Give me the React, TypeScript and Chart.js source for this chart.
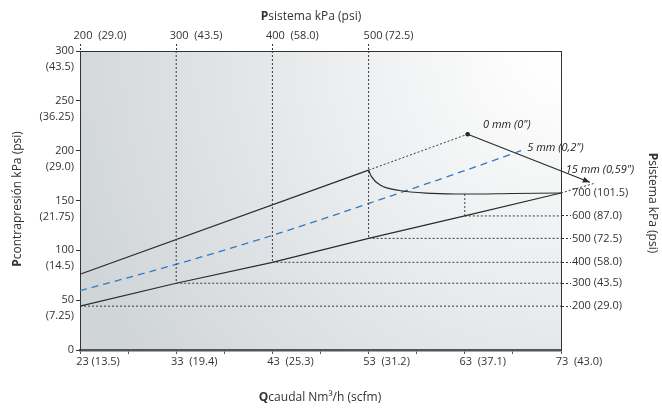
import React, { useEffect, useRef } from 'react';
import { Chart, registerables } from 'chart.js';

Chart.register(...registerables);

const FONT = "'Open Sans', 'Noto Sans', sans-serif";

// bottom axis: flow Nm3/h (scfm)
const flowTicks = [23, 28, 33, 38, 43, 48, 53, 58, 63, 68, 73];
const flowMajor = [23, 33, 43, 53, 63, 73];
const flowLabels = ['23 (13.5)', '33  (19.4)', '43  (25.3)', '53  (31.2)', '63  (37.1)', '73  (43.0)'];

// left axis: back pressure kPa (psi)
const backTicks = [0, 50, 100, 150, 200, 250, 300];
const backPsi = ['', '(7.25)', '(14.5)', '(21.75)', '(29.0)', '(36.25)', '(43.5)'];

// top axis: system pressure kPa (psi)
const topFlows = [23, 33, 43, 53];
const topLabels = ['200  (29.0)', '300  (43.5)', '400  (58.0)', '500 (72.5)'];

// 15 mm line and right-hand system pressure labels
const lowFlow = [23, 33, 43, 53, 63, 73];
const lowBack = [44, 67, 88, 112, 134.5, 157.5];
const rightLabels = ['200 (29.0)', '300 (43.5)', '400 (58.0)', '500 (72.5)', '600 (87.0)', '700 (101.5)'];

const lowExtFlow = [73, 76.4];
const lowExtBack = [157.5, 167];

// 0 mm line
const upFlow = [23, 53];
const upBack = [76, 180.5];
const upExtFlow = [53, 63.3];
const upExtBack = [180.5, 216.5];
const arrowFlow = [63.3, 76.0];
const arrowBack = [216.5, 168.3];

// 5 mm line
const midFlow = [23, 33, 43, 53, 63, 69];
const midBack = [59.5, 86, 115, 147, 180, 200.5];

// regulated curve
const curveFlow = [53, 53.3, 54.2, 56.2, 59.6, 63, 68, 73];
const curveBack = [180.5, 174, 165.5, 160, 157.2, 156.5, 157, 157.5];

// vertical guides
const guideFlow = [33, 43, 53, 63];
const guideTop = [300, 300, 300, 156.5];
const guideBottom = [67, 88, 112, 134.5];

// notes
const noteText = ['0 mm (0")', '5 mm (0,2")', '15 mm (0,59")'];
const noteFlow = [64.9, 69.5, 73.5];
const noteBack = [225.7, 202.6, 180.5];

const pts = (xs: number[], ys: number[]) => xs.map((x, i) => ({ x, y: ys[i] }));

const solid = { borderColor: '#2b2b2b', borderWidth: 1.2, pointRadius: 0, showLine: true, fill: false, clip: false as any };
const dotted = { borderColor: '#3a3a3a', borderWidth: 1, borderDash: [2, 2], pointRadius: 0, showLine: true, fill: false, clip: false as any };

function drawMixed(ctx: CanvasRenderingContext2D, bold: string, rest: string, cx: number, cy: number, rot: number, size: number) {
  ctx.save();
  ctx.translate(cx, cy);
  ctx.rotate(rot);
  const fb = `bold ${size}px ${FONT}`;
  const fn = `${size}px ${FONT}`;
  ctx.font = fb;
  const wb = ctx.measureText(bold).width;
  ctx.font = fn;
  const wr = ctx.measureText(rest).width;
  const start = -(wb + wr) / 2;
  ctx.textBaseline = 'middle';
  ctx.textAlign = 'left';
  ctx.fillStyle = '#333';
  ctx.font = fb;
  ctx.fillText(bold, start, 0);
  ctx.font = fn;
  ctx.fillText(rest, start + wb, 0);
  ctx.restore();
}

const decor = {
  id: 'decor',
  beforeDraw(chart: any) {
    const { ctx, chartArea } = chart;
    const { left, top, right, bottom } = chartArea;
    ctx.save();
    ctx.fillStyle = '#ffffff';
    ctx.fillRect(0, 0, chart.width, chart.height);
    const g = ctx.createRadialGradient(right, top, 0, right, top, 520);
    g.addColorStop(0, '#ffffff');
    g.addColorStop(0.08, '#fdfdfd');
    g.addColorStop(1, '#d0d5d8');
    ctx.fillStyle = g;
    ctx.fillRect(left, top, right - left, bottom - top);
    ctx.restore();
  },
  afterDatasetsDraw(chart: any) {
    const { ctx, scales } = chart;
    // arrow head
    const meta = chart.getDatasetMeta(chart.data.datasets.findIndex((d: any) => d.label === 'arrow'));
    const p0 = meta.data[0];
    const p1 = meta.data[meta.data.length - 1];
    const a = Math.atan2(p1.y - p0.y, p1.x - p0.x);
    ctx.save();
    ctx.translate(p1.x, p1.y);
    ctx.rotate(a);
    ctx.fillStyle = '#2b2b2b';
    ctx.beginPath();
    ctx.moveTo(0, 0);
    ctx.lineTo(-7, -3);
    ctx.lineTo(-7, 3);
    ctx.closePath();
    ctx.fill();
    ctx.restore();
    // notes
    ctx.save();
    ctx.font = `italic 11px ${FONT}`;
    ctx.fillStyle = '#222';
    ctx.textAlign = 'left';
    ctx.textBaseline = 'middle';
    noteText.forEach((t, i) => {
      ctx.fillText(t, scales.x.getPixelForValue(noteFlow[i]), scales.y.getPixelForValue(noteBack[i]));
    });
    ctx.restore();
  },
  afterDraw(chart: any) {
    const { ctx } = chart;
    drawMixed(ctx, 'P', 'sistema kPa (psi)', 311, 17, 0, 12);
    drawMixed(ctx, 'P', 'contrapresión kPa (psi)', 18, 199, -Math.PI / 2, 12);
    drawMixed(ctx, 'P', 'sistema kPa (psi)', 652, 203, Math.PI / 2, 12);
    drawMixed(ctx, 'Q', 'caudal Nm³/h (scfm)', 320, 398, 0, 12);
  },
};

export default function App() {
  const ref = useRef<HTMLCanvasElement>(null);
  useEffect(() => {
    if (!ref.current) return;
    const datasets: any[] = [
      ...lowFlow.slice(0, -1).map((x, i) => ({ ...dotted, label: 'h' + i, data: [{ x, y: lowBack[i] }, { x: 73, y: lowBack[i] }] })),
      ...guideFlow.map((x, i) => ({ ...dotted, label: 'v' + i, data: [{ x, y: guideTop[i] }, { x, y: guideBottom[i] }] })),
      { ...dotted, label: 'lowExt', data: pts(lowExtFlow, lowExtBack) },
      { ...dotted, label: 'upExt', data: pts(upExtFlow, upExtBack) },
      { ...solid, label: '15 mm', data: pts(lowFlow, lowBack) },
      { ...solid, label: '0 mm', data: pts(upFlow, upBack) },
      { ...solid, label: 'curve', data: pts(curveFlow, curveBack), cubicInterpolationMode: 'monotone' },
      {
        label: '5 mm', data: pts(midFlow, midBack), showLine: true, pointRadius: 0, borderColor: '#2f7bc4',
        borderWidth: 1.3, borderDash: [7, 5], cubicInterpolationMode: 'monotone', clip: false,
      },
      { ...solid, label: 'arrow', data: pts(arrowFlow, arrowBack) },
      { label: 'dot', data: [{ x: upExtFlow[1], y: upExtBack[1] }], pointRadius: 2.3, backgroundColor: '#222', borderWidth: 0, showLine: false, clip: false },
    ];
    const tickFont = { family: FONT, size: 11 };
    const chart = new Chart(ref.current, {
      type: 'scatter',
      data: { datasets },
      options: {
        animation: false,
        responsive: false,
        devicePixelRatio: 1,
        layout: { padding: 0 },
        plugins: { legend: { display: false }, tooltip: { enabled: false } },
        scales: {
          x: {
            type: 'linear', position: 'bottom', min: 23, max: 73,
            afterBuildTicks: (s: any) => { s.ticks = flowTicks.map((v) => ({ value: v })); },
            afterFit: (s: any) => { s.height = 60; },
            ticks: {
              autoSkip: false, maxRotation: 0, labelOffset: 18, padding: 1, color: '#333', font: tickFont,
              callback: (v: any) => { const i = flowMajor.indexOf(Number(v)); return i >= 0 ? flowLabels[i] : ''; },
            },
            grid: { drawOnChartArea: false, tickLength: 4, color: '#555' },
            border: { display: true, color: '#555', width: 2.5 },
          },
          x2: {
            type: 'linear', position: 'top', min: 23, max: 73,
            afterBuildTicks: (s: any) => { s.ticks = topFlows.map((v) => ({ value: v })); },
            afterFit: (s: any) => { s.height = 51; },
            ticks: {
              autoSkip: false, maxRotation: 0, labelOffset: 20, padding: 2, color: '#333', font: tickFont,
              callback: (v: any) => { const i = topFlows.indexOf(Number(v)); return i >= 0 ? topLabels[i] : ''; },
            },
            grid: { drawOnChartArea: false, tickLength: 7, tickBorderDash: [2, 2], tickColor: '#333', color: '#333' },
            border: { display: true, color: '#333', width: 1 },
          },
          y: {
            type: 'linear', position: 'left', min: 0, max: 300,
            afterBuildTicks: (s: any) => { s.ticks = backTicks.map((v) => ({ value: v })); },
            afterFit: (s: any) => { s.width = 80; },
            ticks: {
              autoSkip: false, padding: 2, labelOffset: 8, color: '#333', font: { family: FONT, size: 11, lineHeight: 16 / 11 },
              callback: (v: any) => { const i = backTicks.indexOf(Number(v)); return [String(v), backPsi[i] || '']; },
            },
            grid: { drawOnChartArea: false, tickLength: 4, color: '#333' },
            border: { display: true, color: '#333', width: 1 },
          },
          y2: {
            type: 'linear', position: 'right', min: 0, max: 300,
            afterBuildTicks: (s: any) => { s.ticks = lowBack.map((v) => ({ value: v })); },
            afterFit: (s: any) => { s.width = 101; },
            ticks: {
              autoSkip: false, padding: 1, color: '#333', font: tickFont,
              callback: (_v: any, i: number) => rightLabels[i],
            },
            grid: {
              drawOnChartArea: false, tickLength: 10, tickBorderDash: [2, 2], color: '#333',
              tickColor: (c: any) => (c.index === lowBack.length - 1 ? 'rgba(0,0,0,0)' : '#333'),
            },
            border: { display: true, color: '#333', width: 1 },
          },
        },
      } as any,
      plugins: [decor],
    });
    return () => chart.destroy();
  }, []);
  return (
    <div style={{ position: 'absolute', left: 0, top: 0, width: 662, height: 410 }}>
      <canvas ref={ref} width={662} height={410} style={{ width: 662, height: 410 }} />
    </div>
  );
}
